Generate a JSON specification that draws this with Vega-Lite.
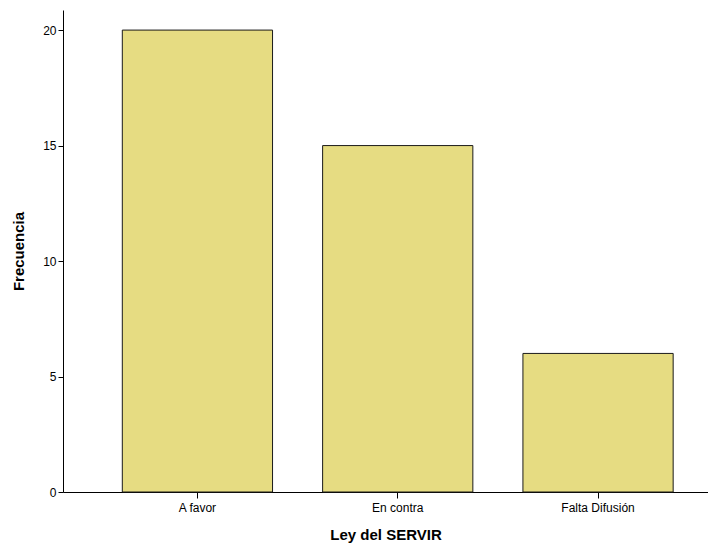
{
  "$schema": "https://vega.github.io/schema/vega-lite/v6.json",
  "autosize": {"type": "none"},
  "padding": {"left": 63, "top": 10, "right": 0, "bottom": 54},
  "width": 645,
  "height": 482,
  "background": "white",
  "config": {"view": {"stroke": null}, "font": "Liberation Sans"},
  "data": {"values": [
    {"categoria": "A favor", "frecuencia": 20},
    {"categoria": "En contra", "frecuencia": 15},
    {"categoria": "Falta Difusión", "frecuencia": 6}
  ]},
  "mark": {"type": "bar", "color": "#E6DC82", "stroke": "#1a1a1a", "strokeWidth": 1},
  "encoding": {
    "x": {
      "field": "categoria", "type": "nominal", "sort": null,
      "scale": {"paddingInner": 0.25, "paddingOuter": 0.235, "align": 0.63},
      "axis": {
        "title": "Ley del SERVIR", "titleFontSize": 15, "titleFontWeight": "bold", "titleColor": "#000",
        "titlePadding": 14, "labelAngle": 0, "labelFontSize": 12, "labelColor": "#000",
        "tickSize": 6, "tickColor": "#000", "domainColor": "#000", "labelPadding": 4
      }
    },
    "y": {
      "field": "frecuencia", "type": "quantitative",
      "scale": {"domain": [0, 20.87], "nice": false},
      "axis": {
        "title": "Frecuencia", "titleFontSize": 15, "titleFontWeight": "bold", "titleColor": "#000",
        "titlePadding": 16, "values": [0, 5, 10, 15, 20], "grid": false,
        "labelFontSize": 12, "labelColor": "#000", "tickSize": 5, "tickColor": "#000", "domainColor": "#000", "labelPadding": 2
      }
    }
  }
}
